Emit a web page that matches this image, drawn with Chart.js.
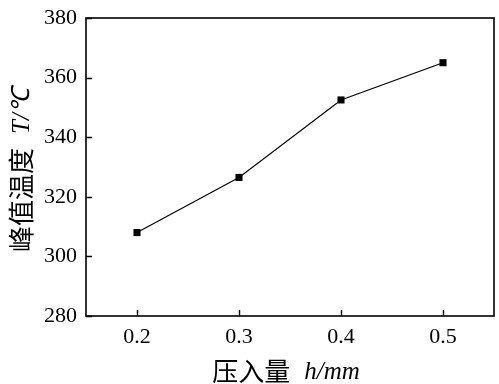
<!DOCTYPE html>
<html>
<head>
<meta charset="utf-8">
<script src="https://cdn.jsdelivr.net/npm/chart.js@4"></script>
<style>
html,body{margin:0;padding:0;background:#fff;}
canvas{display:block;}
</style>
</head>
<body>
<canvas id="c" width="499" height="384"></canvas>
<script>
const pressDepth = [0.2, 0.3, 0.4, 0.5];
const peakTemp = [308, 326.5, 352.5, 365];
const xTickValues = [0.2, 0.3, 0.4, 0.5];
const yTickValues = [280, 300, 320, 340, 360, 380];
const xTitleCN = '压入量';
const xTitleVar = 'h/mm';
const yTitleCN = '峰值温度';
const yTitleVar = 'T/℃';

const serif = "'Liberation Serif','Times New Roman',serif";
const cjk = "'Noto Sans CJK SC','Noto Sans CJK JP',sans-serif";

const framePlugin = {
  id: 'frame',
  afterDraw(chart) {
    const ctx = chart.ctx;
    const a = chart.chartArea;
    const xs = chart.scales.x, ys = chart.scales.y;
    ctx.save();
    ctx.strokeStyle = '#000';
    ctx.lineWidth = 1.6;
    ctx.strokeRect(a.left, a.top, a.right - a.left, a.bottom - a.top);
    ctx.lineWidth = 1.4;
    ctx.beginPath();
    xTickValues.forEach(v => {
      const px = Math.round(xs.getPixelForValue(v)) + 0.5;
      ctx.moveTo(px, a.bottom);
      ctx.lineTo(px, a.bottom - 6);
    });
    yTickValues.forEach(v => {
      const py = Math.round(ys.getPixelForValue(v)) + 0.5;
      ctx.moveTo(a.left, py);
      ctx.lineTo(a.left + 6, py);
    });
    ctx.stroke();

    // X title
    ctx.fillStyle = '#000';
    ctx.textBaseline = 'middle';
    const fCN = '26px ' + cjk;
    const fVar = 'italic 25px ' + serif;
    ctx.font = fCN;
    const w1 = ctx.measureText(xTitleCN).width;
    ctx.font = fVar;
    const w2 = ctx.measureText(xTitleVar).width;
    const gap = 14;
    const total = w1 + gap + w2;
    const cx = 286, cy = 371;
    let x0 = cx - total / 2;
    ctx.textAlign = 'left';
    ctx.font = fCN;
    ctx.fillText(xTitleCN, x0, cy);
    ctx.font = fVar;
    ctx.fillText(xTitleVar, x0 + w1 + gap, cy + 1);

    // Y title (rotated)
    ctx.save();
    ctx.translate(21, 170);
    ctx.rotate(-Math.PI / 2);
    ctx.font = fCN;
    const v1 = ctx.measureText(yTitleCN).width;
    ctx.font = fVar;
    const v2 = ctx.measureText(yTitleVar).width;
    const vt = v1 + gap + v2;
    let y0 = -vt / 2;
    ctx.font = fCN;
    ctx.fillText(yTitleCN, y0, 0);
    ctx.font = fVar;
    ctx.fillText(yTitleVar, y0 + v1 + gap, 1);
    ctx.restore();
    ctx.restore();
  }
};

new Chart(document.getElementById('c'), {
  type: 'line',
  data: {
    datasets: [{
      data: pressDepth.map((x, i) => ({x: x, y: peakTemp[i]})),
      borderColor: '#000',
      backgroundColor: '#000',
      borderWidth: 1.2,
      pointStyle: 'rect',
      pointRadius: 5,
      pointHoverRadius: 5,
      pointBorderWidth: 0,
      tension: 0,
      fill: false
    }]
  },
  options: {
    responsive: false,
    animation: false,
    events: [],
    layout: { padding: { left: 0, top: 18, right: 5, bottom: 0 } },
    plugins: { legend: { display: false }, tooltip: { enabled: false } },
    scales: {
      x: {
        type: 'linear',
        min: 0.15, max: 0.55,
        afterBuildTicks: s => { s.ticks = xTickValues.map(v => ({value: v})); },
        afterFit: s => { s.height = 68; },
        grid: { display: false, drawTicks: false },
        border: { display: false },
        ticks: {
          padding: 8,
          color: '#000',
          font: { family: serif, size: 22 },
          callback: v => v.toFixed(1)
        }
      },
      y: {
        type: 'linear',
        min: 280, max: 380,
        afterBuildTicks: s => { s.ticks = yTickValues.map(v => ({value: v})); },
        afterFit: s => { s.width = 86; s.paddingTop = 0; s.paddingBottom = 0; },
        grid: { display: false, drawTicks: false },
        border: { display: false },
        ticks: {
          padding: 9,
          color: '#000',
          font: { family: serif, size: 22, lineHeight: 1 },
          callback: v => String(v)
        }
      }
    }
  },
  plugins: [framePlugin]
});
</script>
</body>
</html>
